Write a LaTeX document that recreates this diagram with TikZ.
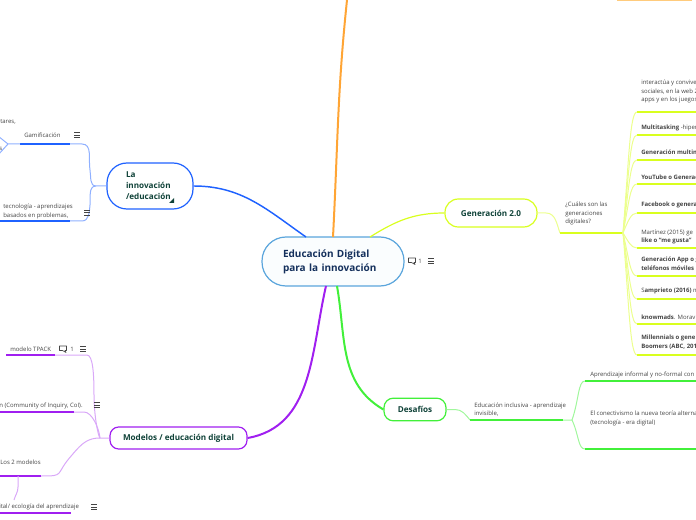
\documentclass[tikz,border=0pt]{standalone}
\usepackage{fontspec}
\setmainfont{Open Sans}
\definecolor{rootline}{HTML}{5AA5DC}
\definecolor{rootfill}{HTML}{FAFDFE}
\definecolor{rootink}{HTML}{14305C}
\definecolor{topicink}{HTML}{0F4238}
\definecolor{leafink}{HTML}{444444}
\definecolor{blueline}{HTML}{1F62FF}
\definecolor{bluelight}{HTML}{8FB0FF}
\definecolor{limeline}{HTML}{D9FF1E}
\definecolor{limelight}{HTML}{ECFF8E}
\definecolor{greenline}{HTML}{42F03A}
\definecolor{greenlight}{HTML}{A0F79C}
\definecolor{purpleline}{HTML}{A01FF0}
\definecolor{purplelight}{HTML}{D9A8F8}
\definecolor{orangeline}{HTML}{FFA535}
\definecolor{orangelight}{HTML}{FFCB7C}
\tikzset{
	root/.style={draw=rootline, fill=rootfill, line width=0.9pt, rounded corners=18pt, minimum height=36.75pt, inner xsep=15.75pt, inner ysep=0pt, text width=75pt, align=left, text=rootink, font=\fontsize{7.5}{10.6}\selectfont\bfseries},
	topic/.style={fill=white, line width=0.9pt, inner sep=0pt, align=center, text=topicink, font=\fontsize{6.1}{8.2}\selectfont\bfseries},
	leaf/.style={anchor=west, inner sep=0pt, align=left, text=leafink, font=\fontsize{4.5}{6.5}\selectfont},
	under/.style={line width=1.4pt},
	link/.style={line width=0.75pt},
	burger/.pic={\draw[leafink, line width=0.5pt] (-3,-2.5) -- (3,-2.5) (-3,0) -- (3,0) (-3,2.5) -- (3,2.5);},
	bubble/.pic={\draw[leafink, line width=0.5pt, line join=round] (-3.5,-3) -- (3.5,-3) -- (3.5,1.5) -- (2,1.5) -- (3,3.5) -- (-0.5,1.5) -- (-3.5,1.5) -- cycle;}
}
\begin{document}
\begin{tikzpicture}[x=0.75pt, y=-0.75pt]
	\clip (0,0) rectangle (696,520);
	% Main boxes:
	\node[root] (central) at (333,261.5){Educación Digital\\para la innovación};
	\node[topic, draw=limeline, rounded corners=10pt, minimum width=69pt, minimum height=21pt] (generacion) at (491,213){Generación 2.0};
	\node[topic, draw=greenline, rounded corners=7pt, minimum width=46.5pt, minimum height=17pt] (desafios) at (415,409.5){Desafíos};
	\node[topic, draw=purpleline, rounded corners=6.5pt, minimum width=102.75pt, minimum height=16.5pt] (modelos) at (178.5,438){Modelos / educación digital};
	\node[topic, draw=blueline, rounded corners=15pt, minimum width=64.5pt, minimum height=34.5pt, inner xsep=14.25pt, text width=36pt, align=left] (innovacion) at (150,186){La\\innovación\\/educación};
	\fill[topicink] (174,198) -- (174,203) -- (169,203) -- cycle;
	\coordinate (cblue) at (306,237);
	\coordinate (corange) at (333,237);
	\coordinate (clime) at (370,237);
	\coordinate (cgreen) at (337,286);
	\coordinate (cpurple) at (326,286);
	\coordinate (topedge) at (347,0);
	\draw[blueline, line width=1.1pt] (innovacion.east) to[out=0, in=145] (cblue);
	\draw[orangeline, line width=1.5pt] (corange) to[out=87, in=-96] (topedge);
	\draw[limeline, line width=0.9pt] (generacion.west) to[out=180, in=32] (clime);
	\draw[greenline, line width=1.5pt] (cgreen) to[out=-80, in=150] (desafios.west);
	\draw[purpleline, line width=1.5pt] (cpurple) to[out=-103, in=10] (modelos.east);
	\draw[orangelight, line width=1.4pt] (617,0) -- (692,0);
	% Innovation side:
	\node[leaf] (tares) at (0,122){tares,};
	\node[leaf] (gamificacion) at (24,135){Gamificación};
	\node[leaf] (restos) at (-1,149){s};
	\node[leaf] (tecnologia) at (3,211.5){tecnología - aprendizajes\\basados en problemas,};
	\coordinate (bhub) at (96,186);
	\coordinate (gamifA) at (20,144);
	\coordinate (gamifB) at (70,144);
	\coordinate (gamifC) at (8,144);
	\coordinate (gamifD) at (-2,136);
	\coordinate (gamifE) at (-2,155);
	\coordinate (tecA) at (-2,221);
	\coordinate (tecB) at (70,221);
	\draw[under, blueline] (gamifA) -- (gamifB);
	\draw[under, blueline] (tecA) -- (tecB);
	\draw[link, bluelight] (gamifB) -- (82,144) to[out=0, in=100] (90,170) to[out=-80, in=180] (bhub) -- (innovacion.west);
	\draw[link, bluelight] (tecB) -- (82,221) to[out=0, in=-95] (90,205) to[out=85, in=180] (bhub);
	\draw[link, bluelight] (gamifA) -- (gamifC) -- (gamifD);
	\draw[link, bluelight] (gamifC) -- (gamifE);
	\pic at (77,135) {burger};
	\pic at (87,212.5) {burger};
	% Model side:
	\node[leaf] (tpack) at (10,349){modelo TPACK};
	\node[leaf] (inquiry) at (-1,406){n (Community of Inquiry, CoI).};
	\node[leaf] (dosmodelos) at (0,462){Los 2 modelos};
	\node[leaf] (ecologia) at (-1,507){ital/ ecología del aprendizaje};
	\coordinate (phub) at (100,438);
	\coordinate (tpackA) at (6,355);
	\coordinate (tpackB) at (55,355);
	\coordinate (inqA) at (-2,412);
	\coordinate (inqB) at (74,412);
	\coordinate (dosA) at (-2,476);
	\coordinate (dosB) at (41,476);
	\coordinate (ecoA) at (-2,513);
	\coordinate (ecoB) at (71,513);
	\coordinate (dosfoot) at (18,476);
	\coordinate (ecofoot) at (14,500);
	\draw[under, purpleline] (tpackA) -- (tpackB);
	\draw[under, purpleline] (inqA) -- (inqB);
	\draw[under, purpleline] (dosA) -- (dosB);
	\draw[under, purpleline] (ecoA) -- (ecoB);
	\draw[link, purplelight] (tpackB) -- (87,355) .. controls +(6,0) and +(0,-20) .. (94,395) .. controls +(0,20) and +(-2,-2) .. (phub) -- (modelos.west);
	\draw[link, purplelight] (inqB) -- (84,412) .. controls +(8,0) and +(-1,-10) .. (phub);
	\draw[link, purplelight] (dosB) .. controls +(25,0) and +(-18,20) .. (72,455) .. controls +(10,-12) and +(-12,0) .. (phub);
	\draw[link, purplelight] (dosfoot) -- (18,487) to[out=-90, in=75] (ecofoot);
	\pic at (63,349) {bubble};
	\node[leaf, anchor=center] (tpackn) at (72,349.5){1};
	\pic at (83,349) {burger};
	\pic at (97,405) {burger};
	\pic at (94,507) {burger};
	% Generation side:
	\node[leaf] (cuales) at (565,213.5){¿Cuáles son las\\generaciones\\digitales?};
	\node[leaf] (interactua) at (641,91.5){interactúa y convive\\sociales, en la web 2\\apps y en los juegos};
	\node[leaf] (multitasking) at (641,128){\textbf{Multitasking} -hiper};
	\node[leaf] (multim) at (641,152.5){\textbf{Generación multim}};
	\node[leaf] (youtube) at (641,177){\textbf{YouTube o Generac}};
	\node[leaf] (facebook) at (641,205){\textbf{Facebook o genera}};
	\node[leaf] (martinez) at (641,237){Martínez (2015)  ge\\\textbf{like o “me gusta”}};
	\node[leaf] (appgen) at (641,264){\textbf{Generación App o g}\\\textbf{teléfonos móviles}};
	\node[leaf] (samprieto) at (641,291){S\textbf{amprieto (2016)} m};
	\node[leaf] (knowmads) at (641,317){\textbf{knowmads}. Morav};
	\node[leaf] (millennials) at (641,342.5){\textbf{Millennials o gene}\\\textbf{Boomers (ABC, 201}};
	\coordinate (gcualA) at (560,233);
	\coordinate (gcualB) at (623,233);
	\draw[link, limelight] (generacion.east) -- (546,213) to[out=0, in=110] (gcualA);
	\draw[line width=0.9pt, limeline] (gcualA) -- (gcualB);
	\coordinate (endA) at (696,112);
	\coordinate (endB) at (696,135);
	\coordinate (endC) at (696,160);
	\coordinate (endD) at (696,184);
	\coordinate (endE) at (696,213);
	\coordinate (endF) at (696,248);
	\coordinate (endG) at (696,276);
	\coordinate (endH) at (696,299);
	\coordinate (endI) at (696,324);
	\coordinate (endJ) at (696,355);
	\draw[under, limeline] (637,112) -- (endA);
	\draw[under, limeline] (637,135) -- (endB);
	\draw[under, limeline] (637,160) -- (endC);
	\draw[under, limeline] (637,184) -- (endD);
	\draw[under, limeline] (637,213) -- (endE);
	\draw[under, limeline] (637,248) -- (endF);
	\draw[under, limeline] (637,276) -- (endG);
	\draw[under, limeline] (637,299) -- (endH);
	\draw[under, limeline] (637,324) -- (endI);
	\draw[under, limeline] (637,355) -- (endJ);
	\draw[link, limelight] (gcualB) .. controls +(6,-75) and +(-7,0) .. (637,112);
	\draw[link, limelight] (gcualB) .. controls +(6,-60) and +(-7,0) .. (637,135);
	\draw[link, limelight] (gcualB) .. controls +(6,-45) and +(-7,0) .. (637,160);
	\draw[link, limelight] (gcualB) .. controls +(6,-30) and +(-7,0) .. (637,184);
	\draw[link, limelight] (gcualB) .. controls +(5,-12) and +(-6,0) .. (637,213);
	\draw[link, limelight] (gcualB) .. controls +(5,8) and +(-6,0) .. (637,248);
	\draw[link, limelight] (gcualB) .. controls +(6,25) and +(-7,0) .. (637,276);
	\draw[link, limelight] (gcualB) .. controls +(6,38) and +(-7,0) .. (637,299);
	\draw[link, limelight] (gcualB) .. controls +(6,50) and +(-7,0) .. (637,324);
	\draw[link, limelight] (gcualB) .. controls +(6,70) and +(-7,0) .. (637,355);
	% Challenge side:
	\node[leaf] (inclusiva) at (474,409.5){Educación inclusiva -  aprendizaje\\invisible,};
	\node[leaf] (informal) at (590,375){Aprendizaje informal y no-formal con e};
	\node[leaf] (conectivismo) at (590,418.5){El conectivismo la nueva teoría alterna\\(tecnología - era digital)};
	\coordinate (dincA) at (470,420);
	\coordinate (dincB) at (563,420);
	\coordinate (dhub) at (572,420);
	\coordinate (dfirst) at (585,381);
	\coordinate (dsecond) at (585,449);
	\coordinate (endK) at (696,381);
	\coordinate (endL) at (696,449);
	\draw[link, greenlight] (desafios.east) -- (455,409.5) to[out=0, in=130] (dincA);
	\draw[under, greenline] (dincA) -- (dincB);
	\draw[link, greenlight] (dincB) -- (dhub) .. controls +(7,-20) and +(-7,0) .. (dfirst);
	\draw[link, greenlight] (dhub) .. controls +(7,15) and +(-7,0) .. (dsecond);
	\draw[under, greenline] (dfirst) -- (endK);
	\draw[under, greenline] (dsecond) -- (endL);
	% Root icons:
	\pic at (412,261) {bubble};
	\node[leaf, anchor=center] (rootn) at (420,261){1};
	\pic at (431,261) {burger};
\end{tikzpicture}
\end{document}
